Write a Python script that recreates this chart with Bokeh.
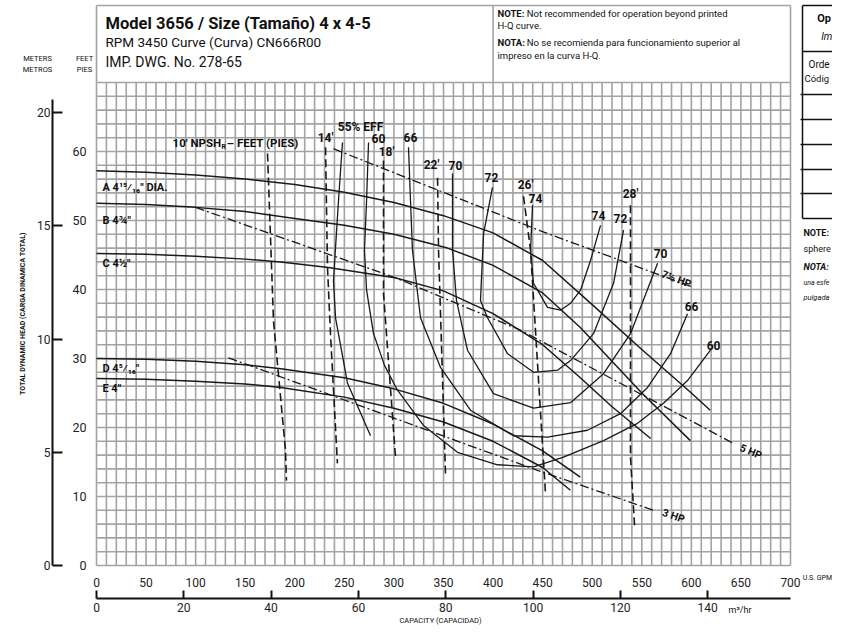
import numpy as np
from bokeh.plotting import figure
from bokeh.models import Range1d, LinearAxis, FixedTicker
from bokeh.core.properties import value
from bokeh.embed import file_html
from bokeh.resources import INLINE

# ---------------- data ----------------
gpm_ticks = [0, 50, 100, 150, 200, 250, 300, 350, 400, 450, 500, 550, 600, 650, 700]
feet_ticks = [0, 10, 20, 30, 40, 50, 60]
meter_ticks = [0, 5, 10, 15, 20]
m3h_ticks = [0, 20, 40, 60, 80, 100, 120, 140]

# head-capacity curves (GPM, feet)
head_names = ["A 4\u00b9\u2075\u2044\u2081\u2086\" DIA.", "B 4\u00be\"", "C 4\u00bd\"", "D 4\u2075\u2044\u2081\u2086\"", "E 4\""]
head_A_gpm = [0, 50, 100, 150, 200, 250, 300, 350, 400, 450, 500, 550, 600, 619]
head_A_ft = [57.2, 57.0, 56.6, 56.0, 55.2, 54.1, 52.6, 50.7, 48.2, 44.2, 37.8, 31.3, 25.0, 22.5]
head_B_gpm = [0, 50, 100, 150, 200, 250, 300, 354, 400, 450, 488, 550, 599]
head_B_ft = [52.5, 52.3, 51.9, 51.3, 50.3, 49.3, 48.0, 46.0, 43.5, 39.5, 34.5, 25.0, 18.1]
head_C_gpm = [0, 50, 100, 150, 186, 234, 301, 350, 400, 450, 488, 520, 559]
head_C_ft = [45.2, 45.1, 44.8, 44.4, 44.0, 43.2, 41.7, 39.8, 36.5, 32.0, 27.2, 23.0, 18.4]
head_D_gpm = [0, 50, 100, 150, 186, 250, 300, 350, 400, 450, 488]
head_D_ft = [30.0, 29.9, 29.6, 29.1, 28.5, 27.2, 25.6, 23.5, 20.5, 16.6, 12.8]
head_E_gpm = [0, 50, 100, 150, 186, 250, 300, 350, 400, 450, 478]
head_E_ft = [27.1, 27.0, 26.7, 26.3, 25.8, 24.4, 22.8, 20.8, 18.0, 14.2, 10.9]

# efficiency curves (GPM, feet)
eff55_gpm = [248.1, 244.1, 239.0, 241.1, 253.2, 276.4]
eff55_ft = [61.3, 52.9, 41.3, 35.9, 26.4, 18.8]
eff60_gpm = [274.4, 272.4, 270.3, 272.4, 279.4, 290.5, 303.6, 329.8, 364.1, 404.5, 440.8, 471.0,
             511.4, 545.7, 571.9, 596.1, 619.3]
eff60_ft = [61.3, 52.9, 45.7, 39.9, 33.6, 29.0, 25.4, 20.3, 16.4, 14.6, 14.3, 15.7,
            18.1, 20.6, 23.5, 26.8, 31.2]
eff66_gpm = [314.7, 316.7, 318.7, 326.8, 347.0, 377.2, 420.6, 454.9, 495.2, 528.5, 555.8, 579.0, 596.1]
eff66_ft = [60.6, 52.9, 45.7, 35.9, 28.7, 22.5, 18.8, 18.6, 19.6, 22.0, 25.8, 30.7, 36.5]
eff70_gpm = [359.1, 359.1, 363.1, 374.2, 400.4, 440.8, 478.1, 511.4, 538.6, 565.9]
eff70_ft = [56.8, 45.7, 38.4, 31.2, 24.9, 22.8, 23.6, 27.8, 33.6, 43.8]
eff72_gpm = [399.4, 390.4, 387.3, 394.4, 414.6, 440.8, 465.0, 478.1, 501.3, 521.5, 531.6]
eff72_ft = [54.8, 48.1, 38.4, 35.9, 30.7, 28.0, 28.3, 29.7, 33.6, 40.9, 48.6]
eff74_gpm = [439.8, 437.8, 440.8, 454.9, 468.0, 478.1, 488.2, 498.3, 508.4]
eff74_ft = [52.2, 45.7, 40.9, 37.4, 37.0, 38.0, 39.9, 44.2, 49.3]

# NPSHr lines (GPM, feet)
npsh10_gpm = [172.5, 178.5, 190.6, 191.6]
npsh10_ft = [59.7, 35.5, 16.7, 12.3]
npsh14_gpm = [231, 233, 236, 243]
npsh14_ft = [60.6, 43.2, 33.6, 14.8]
npsh18_gpm = [289.5, 289.5, 301.6]
npsh18_ft = [58.7, 39.4, 15.7]
npsh22_gpm = [344, 345, 352]
npsh22_ft = [56.2, 45.7, 13.3]
npsh26_gpm = [430.7, 437.8, 452.9]
npsh26_ft = [53.5, 45.7, 10.4]
npsh28_gpm = [538.6, 538.6, 542.7]
npsh28_ft = [52.2, 15.7, 5.8]

# horsepower lines (GPM, feet)
hp75_gpm = [239.0, 447.8, 602.0]
hp75_ft = [60.4, 48.5, 40.3]
hp5_gpm = [99.9, 301.6, 427.7, 642.5]
hp5_ft = [51.9, 41.7, 34.1, 17.7]
hp3_gpm = [133.1, 444.8, 561.9]
hp3_ft = [30.1, 13.8, 8.0]

# ---------------- scales ----------------
FONT = "Roboto"
GPM_PER_M3H = 4.402868
M_PER_FT = 0.3048
X0, X1 = -96.83, 742.36      # GPM across the whole canvas
Y0, Y1 = -8.84, 81.88        # feet across the whole canvas

p = figure(width=832, height=626, output_backend="svg", toolbar_location=None,
           x_range=Range1d(X0, X1), y_range=Range1d(Y0, Y1), min_border=0)
p.outline_line_color = None
p.xgrid.visible = False
p.ygrid.visible = False
p.background_fill_color = "white"
p.border_fill_color = "white"

# feet axis
fa = p.yaxis[0]
fa.fixed_location = 0
fa.ticker = FixedTicker(ticks=feet_ticks)
fa.axis_line_color = None
fa.major_tick_line_color = None
fa.minor_tick_line_color = None
fa.major_label_standoff = 4
fa.major_label_text_font = FONT
fa.major_label_text_font_size = "12.5px"
fa.major_label_text_color = "#222222"

# meters axis
p.extra_y_ranges = {"m": Range1d(Y0 * M_PER_FT, Y1 * M_PER_FT)}
ma = LinearAxis(y_range_name="m", ticker=FixedTicker(ticks=meter_ticks), bounds=(0, 20.6),
                fixed_location=-44.4)
ma.axis_line_width = 2
ma.axis_line_color = "#111111"
ma.major_tick_line_width = 2
ma.major_tick_line_color = "#111111"
ma.major_tick_in = 10
ma.major_tick_out = 0
ma.minor_tick_line_color = None
ma.major_label_standoff = 2
ma.major_label_text_font = FONT
ma.major_label_text_font_size = "12px"
ma.major_label_text_color = "#222222"
p.add_layout(ma, "left")

# GPM axis
ga = p.xaxis[0]
ga.fixed_location = 0
ga.ticker = FixedTicker(ticks=gpm_ticks)
ga.axis_line_color = None
ga.major_tick_line_color = None
ga.minor_tick_line_color = None
ga.major_label_standoff = 6
ga.major_label_text_font = FONT
ga.major_label_text_font_size = "12px"
ga.major_label_text_color = "#222222"

# m3/hr axis
p.extra_x_ranges = {"m3": Range1d(X0 / GPM_PER_M3H, X1 / GPM_PER_M3H)}
ca = LinearAxis(x_range_name="m3", ticker=FixedTicker(ticks=m3h_ticks),
                bounds=(0, 700 / GPM_PER_M3H), fixed_location=-4.78)
ca.axis_line_width = 2
ca.axis_line_color = "#111111"
ca.major_tick_line_width = 2
ca.major_tick_line_color = "#111111"
ca.major_tick_in = 8
ca.major_tick_out = 0
ca.minor_tick_line_color = None
ca.major_label_standoff = 5
ca.major_label_text_font = FONT
ca.major_label_text_font_size = "12px"
ca.major_label_text_color = "#222222"
p.add_layout(ca, "below")

# ---------------- grid & boxes ----------------
GRID = "#a3a3a3"
vx = np.arange(0, 701, 10)
p.segment(x0=vx, y0=0, x1=vx, y1=70, line_color=GRID, line_width=1.6)
hy = np.arange(0, 71, 2)
p.segment(x0=0, y0=hy, x1=700, y1=hy, line_color=GRID, line_width=1.6)
TOP = 81.16
p.segment(x0=[0, 700, 400, 0], y0=[70, 70, 70, TOP], x1=[0, 700, 400, 700], y1=[TOP, TOP, TOP, TOP],
          line_color=GRID, line_width=1.6)

# ---------------- curves ----------------
CURVE = "#1a1a1a"
for gx, gy in [(head_A_gpm, head_A_ft), (head_B_gpm, head_B_ft), (head_C_gpm, head_C_ft),
               (head_D_gpm, head_D_ft), (head_E_gpm, head_E_ft)]:
    p.line(gx, gy, line_color=CURVE, line_width=1.5)

for gx, gy in [(eff55_gpm, eff55_ft), (eff60_gpm, eff60_ft), (eff66_gpm, eff66_ft),
               (eff70_gpm, eff70_ft), (eff72_gpm, eff72_ft), (eff74_gpm, eff74_ft)]:
    p.line(gx, gy, line_color=CURVE, line_width=1.3, line_join="round")

for gx, gy in [(npsh10_gpm, npsh10_ft), (npsh14_gpm, npsh14_ft), (npsh18_gpm, npsh18_ft),
               (npsh22_gpm, npsh22_ft), (npsh26_gpm, npsh26_ft), (npsh28_gpm, npsh28_ft)]:
    p.line(gx, gy, line_color=CURVE, line_width=1.6, line_dash="8 4")

for gx, gy in [(hp75_gpm, hp75_ft), (hp5_gpm, hp5_ft), (hp3_gpm, hp3_ft)]:
    p.line(gx, gy, line_color=CURVE, line_width=1.3, line_dash="9 3 2 3")

# ---------------- texts ----------------
def T(x, y, s, size="10px", style="normal", align="left", base="middle", angle=0, color="#111111"):
    p.text(x=[x], y=[y], text=[s], text_font=value(FONT), text_font_size=size,
           text_font_style=style, text_align=align, text_baseline=base, angle=angle,
           text_color=color)

# title block
T(9.1, 78.6, "Model 3656 / Size (Tama\u00f1o) 4 x 4-5", size="16.5px", style="bold")
T(9.1, 75.8, "RPM 3450 Curve (Curva) CN666R00", size="13.5px")
T(9.1, 72.9, "IMP. DWG. No. 278-65", size="14px")
T(404.5, 80.0, "NOTE:", size="9.5px", style="bold")
T(434.0, 80.0, "Not recommended for operation beyond printed", size="9.5px")
T(404.5, 78.3, "H-Q curve.", size="9.5px")
T(404.5, 75.8, "NOTA:", size="9.5px", style="bold")
T(434.0, 75.8, "No se recomienda para funcionamiento superior al", size="9.5px")
T(404.5, 73.9, "impreso en la curva H-Q.", size="9.5px")

# scale headers and titles
T(-59.5, 73.5, "METERS", size="7.5px", align="center")
T(-59.5, 71.9, "METROS", size="7.5px", align="center")
T(-12.1, 73.5, "FEET", size="7.5px", align="center")
T(-12.1, 71.9, "PIES", size="7.5px", align="center")
T(-74.6, 36.5, "TOTAL DYNAMIC HEAD (CARGA DINAMICA TOTAL)", size="7px", style="bold",
  align="center", angle=np.pi / 2)
T(347.0, -8.0, "CAPACITY (CAPACIDAD)", size="7.5px", align="center")
T(712.3, -1.88, "U.S. GPM", size="7px")
T(637.5, -6.38, "m\u00b3/hr", size="9px")

# head curve labels
for (yy, s) in zip([54.8, 50.0, 43.8, 28.55, 25.65], head_names):
    T(6, yy, s, size="11px", style="bold")

# efficiency labels
eff_lab_x = [266.3, 284.4, 316.7, 362.1, 398.4, 442.8, 506.3, 528.5, 568.9, 600.2, 622.4]
eff_lab_y = [63.5, 61.9, 62.0, 58.0, 56.2, 53.2, 50.7, 50.3, 45.2, 37.5, 31.9]
eff_lab_t = ["55% EFF", "60", "66", "70", "72", "74", "74", "72", "70", "66", "60"]
p.text(x=eff_lab_x, y=eff_lab_y, text=eff_lab_t, text_font=value(FONT), text_font_size="12px",
       text_font_style="bold", text_align="center", text_baseline="middle", text_color="#111111")

# NPSH labels
T(76.7, 61.3, "10' NPSH", size="11.5px", style="bold")
T(126.0, 60.7, "R", size="7px", style="bold")
T(131.5, 61.3, "\u2013 FEET (PIES)", size="11.5px", style="bold")
npsh_lab_x = [231, 292.5, 337.9, 432.7, 538.6]
npsh_lab_y = [61.9, 59.9, 58.0, 55.1, 53.9]
npsh_lab_t = ["14'", "18'", "22'", "26'", "28'"]
p.text(x=npsh_lab_x, y=npsh_lab_y, text=npsh_lab_t, text_font=value(FONT), text_font_size="12px",
       text_font_style="bold", text_align="center", text_baseline="middle", text_color="#111111")

# HP labels
T(585, 41.5, "7\u00bd HP", size="10.5px", style="bold", align="center", angle=-0.36)
T(660.0, 16.5, "5 HP", size="10.5px", style="bold", align="center", angle=-0.40)
T(582.0, 7.2, "3 HP", size="10.5px", style="bold", align="center", angle=-0.33)

# right-side table (cut at the page edge)
TB = "#111111"
TL = 712.1
tab_y = [74.49, 68.26, 64.64, 61.01, 57.39, 53.91, 50.29]
p.segment(x0=[TL], y0=[50.29], x1=[TL], y1=[TOP], line_color=TB, line_width=1.5)
p.segment(x0=[TL, TL - 2, TL - 2, TL - 2, TL - 2, TL - 2, TL], y0=tab_y,
          x1=[X1] * 7, y1=tab_y, line_color=TB, line_width=1.5)
p.segment(x0=[TL], y0=[TOP], x1=[X1], y1=[TOP], line_color=TB, line_width=1.5)
T(727.0, 79.28, "Op", size="11px", style="bold")
T(731.0, 76.67, "Im", size="10px", style="italic")
T(718.2, 72.61, "Orde", size="10px")
T(714.1, 70.58, "C\u00f3dig", size="9.5px")
T(713.1, 48.12, "NOTE:", size="9px", style="bold")
T(713.1, 45.8, "sphere", size="9px")
T(713.1, 43.19, "NOTA:", size="9px", style="bold italic")
T(713.1, 41.01, "una esfe", size="7px", style="italic")
T(713.1, 38.84, "pulgada", size="7.5px", style="italic")

open("out.html", "w").write(file_html(p, INLINE))
